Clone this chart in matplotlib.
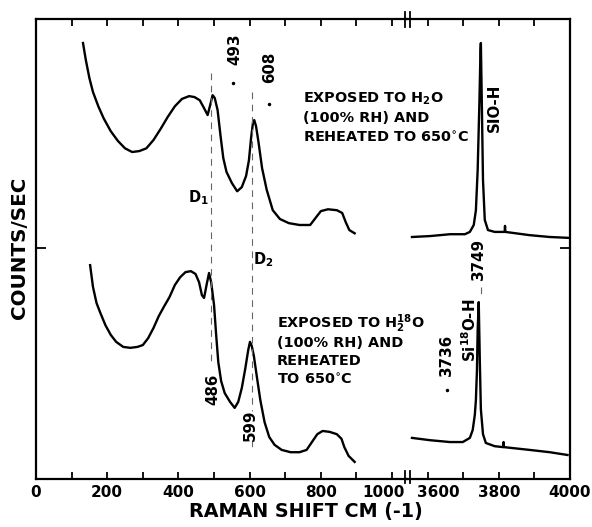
import matplotlib
matplotlib.use("Agg")
import matplotlib.pyplot as plt
from matplotlib.lines import Line2D
from matplotlib.transforms import ScaledTranslation

plt.rcParams['font.family'] = ['DejaVu Sans']
plt.rcParams['font.weight'] = 'bold'
plt.rcParams['mathtext.fontset'] = 'dejavusans'
plt.rcParams['mathtext.default'] = 'bf'

# ---------------- data (arbitrary counts/sec units) ----------------
# Upper spectrum (exposed to H2O), low-frequency region
h2o_low_shift = [132, 140, 150, 160, 175, 190, 210, 230, 250, 270, 290, 310, 330, 350, 370, 390,
                 410, 430, 445, 460, 472, 482, 490, 496, 502, 510, 518, 526, 535, 550, 565, 578,
                 590, 598, 604, 610, 613, 618, 625, 635, 648, 665, 685, 710, 740, 770, 785, 800,
                 820, 845, 860, 870, 880, 895]
h2o_low_counts = [94.4, 90.7, 86.8, 83.8, 80.7, 78.1, 75.3, 73.2, 71.6, 70.8, 71.0, 71.6, 73.4,
                  75.8, 78.4, 80.7, 82.3, 82.9, 82.7, 82.0, 80.3, 78.8, 81.2, 83.1, 82.5, 79.9,
                  74.5, 69.5, 66.5, 64.1, 62.3, 63.2, 65.6, 69.0, 73.8, 77.5, 77.7, 76.4, 72.9,
                  67.3, 62.6, 58.2, 56.3, 55.4, 55.0, 55.0, 56.5, 58.0, 58.4, 58.2, 57.6, 55.6,
                  53.9, 53.2]
# Upper spectrum, O-H stretching region
h2o_high_shift = [3555, 3606, 3662, 3704, 3718, 3729, 3735, 3740, 3745, 3748, 3749, 3752, 3755,
                  3760, 3769, 3788, 3816, 3817, 3818, 3886, 3943, 3999]
h2o_high_counts = [52.4, 52.6, 53.0, 53.0, 53.5, 55.0, 58.2, 66.9, 82.0, 92.9, 94.4, 79.9, 64.7,
                   56.1, 53.9, 53.5, 53.5, 54.8, 53.5, 52.8, 52.4, 52.2]

# Lower spectrum (exposed to H2 18O), low-frequency region
h218o_low_shift = [152, 160, 170, 180, 195, 210, 225, 245, 265, 285, 300, 315, 330, 345, 360, 375,
                   390, 405, 420, 435, 448, 458, 466, 472, 480, 486, 492, 500, 506, 512, 520, 530,
                   545, 558, 568, 578, 588, 596, 601, 606, 612, 620, 630, 642, 655, 670, 690, 715,
                   740, 760, 775, 790, 805, 825, 845, 858, 866, 878, 895]
h218o_low_counts = [46.3, 41.6, 38.1, 36.1, 33.3, 31.2, 29.7, 28.6, 28.4, 28.6, 29.0, 30.5, 32.7,
                    35.3, 37.4, 39.4, 42.0, 43.7, 44.8, 45.0, 44.4, 42.6, 39.8, 39.2, 42.4, 44.6,
                    42.6, 37.7, 31.2, 25.3, 21.2, 18.6, 16.7, 15.4, 16.7, 19.7, 24.0, 27.9, 29.7,
                    28.8, 26.6, 22.3, 17.1, 12.3, 9.1, 7.4, 6.3, 5.8, 5.8, 6.3, 8.0, 9.7, 10.4,
                    10.2, 9.7, 8.7, 6.9, 5.0, 3.7]
# Lower spectrum, O-H stretching region
h218o_high_shift = [3555, 3606, 3662, 3698, 3718, 3726, 3732, 3735, 3738, 3740, 3743, 3746, 3749,
                    3755, 3763, 3788, 3812, 3813, 3814, 3886, 3943, 3993]
h218o_high_counts = [8.9, 8.4, 8.0, 8.0, 8.9, 10.6, 13.9, 17.1, 23.6, 32.3, 38.3, 25.8, 15.1,
                     9.7, 7.8, 7.1, 6.9, 8.0, 6.9, 6.3, 5.8, 5.2]

low_ticks = [0, 100, 200, 300, 400, 500, 600, 700, 800, 900, 1000]
low_ticklabels = ['0', '', '200', '', '400', '', '600', '', '800', '', '1000']
high_ticks = [3600, 3700, 3800, 3900, 4000]
high_ticklabels = ['3600', '', '3800', '', '4000']

# ---------------- figure ----------------
W, H = 592, 527
fig = plt.figure(figsize=(W / 100, H / 100), dpi=100)
fig.patch.set_facecolor('white')

def fx(px):
    return px / W

def fy(py):
    return 1 - py / H

top_px, bot_px = 19, 479
left_px, brk_px, right_px = 36, 407, 570
axL = fig.add_axes([fx(left_px), fy(bot_px), fx(brk_px - left_px), (bot_px - top_px) / H])
axR = fig.add_axes([fx(brk_px), fy(bot_px), fx(right_px - brk_px), (bot_px - top_px) / H])
for ax in (axL, axR):
    ax.set_facecolor('none')
    ax.set_ylim(0, 99.6)
    for s in ax.spines.values():
        s.set_linewidth(1.6)
    ax.tick_params(axis='x', direction='in', top=True, bottom=True, length=5, width=1.3,
                   labelsize=11, pad=4)
    ax.tick_params(axis='y', direction='in', length=7, width=1.3, labelleft=False, labelright=False)

axL.set_xlim(0, 1042)
axR.set_xlim(3541, 4000)
axL.spines['right'].set_visible(False)
axR.spines['left'].set_visible(False)
axL.set_yticks([50])
axR.set_yticks([50])
axR.tick_params(axis='y', left=False, right=True)

axL.set_xticks(low_ticks)
axL.set_xticklabels(low_ticklabels, fontweight='bold')
axR.set_xticks(high_ticks)
axR.set_xticklabels(high_ticklabels, fontweight='bold')

# small shifts of crowded labels beside the axis break
lab1000 = axL.get_xticklabels()[-1]
lab1000.set_transform(lab1000.get_transform() + ScaledTranslation(-0.09, 0, fig.dpi_scale_trans))
lab3600 = axR.get_xticklabels()[0]
lab3600.set_transform(lab3600.get_transform() + ScaledTranslation(0.10, 0, fig.dpi_scale_trans))

lw = 1.7
axL.plot(h2o_low_shift, h2o_low_counts, color='black', lw=lw)
axL.plot(h218o_low_shift, h218o_low_counts, color='black', lw=lw)
axR.plot(h2o_high_shift, h2o_high_counts, color='black', lw=lw)
axR.plot(h218o_high_shift, h218o_high_counts, color='black', lw=lw)

# axis break marks
for xb in (405, 410):
    for (y0, y1) in ((top_px - 7, top_px + 8), (bot_px - 8, bot_px + 4)):
        fig.add_artist(Line2D([fx(xb), fx(xb)], [fy(y0), fy(y1)], color='black', lw=1.3))

# dashed guide lines
dkw = dict(color='0.4', lw=0.8, dashes=(6, 5))
axL.plot([492, 492], [88, 24.5], **dkw)
axL.plot([607, 607], [83.8, 14.8], **dkw)
axL.plot([607, 607], [8.4, 6.6], **dkw)
axR.plot([3749, 3749], [41.5, 39.5], **dkw)

# annotations
tkw = dict(fontsize=10.4, fontweight='bold', color='black')
rkw = dict(fontsize=10.8, fontweight='bold', color='black', rotation=90, ha='center', va='center')
axL.text(559, 93.1, '493', **rkw)
axL.plot([553], [85.7], 'k.', ms=3)
axL.text(657, 89.2, '608', **rkw)
axL.plot([654], [81.2], 'k.', ms=3)
axL.text(455, 61.0, r'D$_{1}$', ha='center', va='center', fontsize=10.5, fontweight='bold')
axL.text(638, 47.4, r'D$_{2}$', ha='center', va='center', fontsize=10.5, fontweight='bold')
axL.text(750, 81.4, r'EXPOSED TO H$_{2}$O', va='baseline', **tkw)
axL.text(750, 77.3, '(100% RH) AND', va='baseline', **tkw)
axL.text(750, 72.9, 'REHEATED TO 650$^{\\circ}$C', va='baseline', **tkw)
axR.text(3788, 80.3, 'SIO-H', **rkw)
axR.text(3743, 47.6, '3749', **rkw)

axL.text(677, 32.7, r'EXPOSED TO H$_{2}^{18}$O', va='baseline', **tkw)
axL.text(677, 28.6, '(100% RH) AND', va='baseline', **tkw)
axL.text(677, 24.7, 'REHEATED', va='baseline', **tkw)
axL.text(677, 20.6, 'TO 650$^{\\circ}$C', va='baseline', **tkw)
axL.text(497, 19.3, '486', **rkw)
axL.text(601, 11.7, '599', **rkw)
axR.text(3653, 26.8, '3736', **rkw)
axR.plot([3653], [19.3], 'k.', ms=3)
axR.text(3718, 32.3, r'Si$^{18}$O-H', **rkw)

fig.text(fx(20), fy(248), 'COUNTS/SEC', rotation=90, ha='center', va='center',
         fontsize=14.3, fontweight='bold')
fig.text(fx(306), fy(512), 'RAMAN SHIFT CM (-1)', ha='center', va='center',
         fontsize=13.8, fontweight='bold')

fig.savefig('out.png', dpi=100, facecolor='white')
